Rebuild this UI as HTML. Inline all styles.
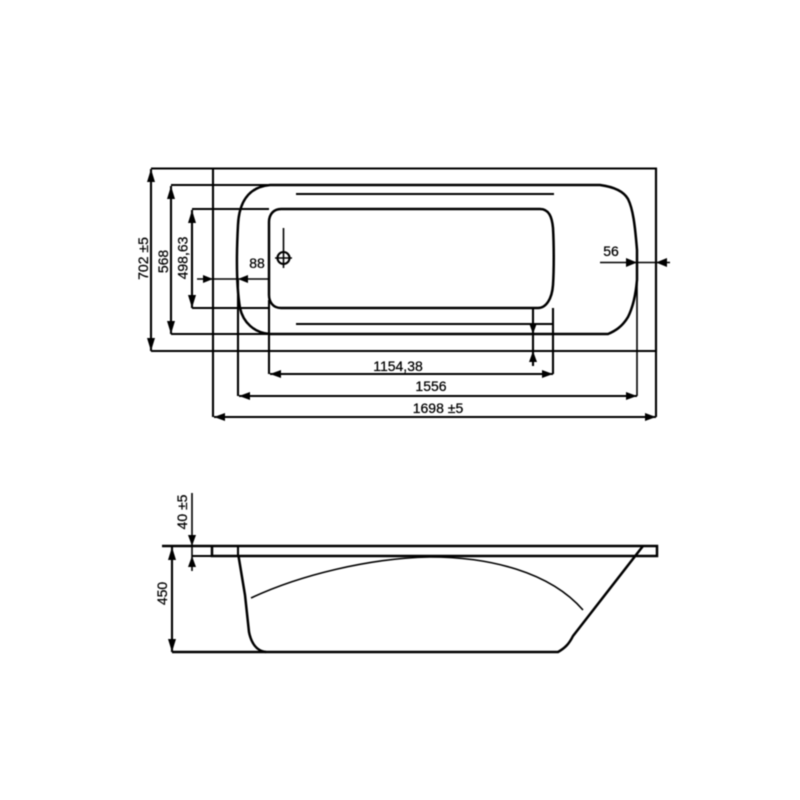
<!DOCTYPE html>
<html>
<head>
<meta charset="utf-8">
<style>
html,body{margin:0;padding:0;background:#fff}
svg{display:block;filter:blur(0.45px)}
text{font-family:"Liberation Sans",sans-serif;font-size:14px;fill:#000;stroke:#000;stroke-width:0.25;text-anchor:middle;dominant-baseline:central}
.t{stroke:#000;stroke-width:2.1;fill:none}
.m{stroke:#000;stroke-width:1.6;fill:none}
.k{stroke:#000;stroke-width:2.5;fill:none}
.a{fill:#000;stroke:none}
</style>
</head>
<body>
<svg width="800" height="800" viewBox="0 0 800 800" xmlns="http://www.w3.org/2000/svg">
<!-- top view extension and outlines -->
<path class="t" d="M151 168.500H656V351H151"/>
<path class="t" d="M171 185H420M171 334H420"/>
<path class="t" d="M192 209H269M192 308H269"/>
<path class="t" d="M213 168.500V417"/>
<path class="t" d="M656 168.500V417"/>
<path class="t" d="M238 280V396"/>
<path class="m" d="M637 262V396"/>
<path class="t" d="M269 300V374"/>
<path class="t" d="M553 308V374"/>
<!-- basin -->
<path class="k" d="M270 185H600C615 187 624 192 628 199C633 209 635 225 637 250V280C636 292 634 305 628 317C622 327 615 331 608 334H270C254 333 243 322 240 308C237 290 236 262 238 225C239 203 248 187 270 185Z"/>
<!-- inner -->
<path class="k" d="M281 209H540C549 209 552 217 553 228C554 245 554 270 553 285C552 299 546 308 538 308H281C273 308 269 302 269 295V222C269 214 274 209 281 209Z"/>
<path class="t" d="M296 194H554M296 324H553"/>
<!-- dimension lines -->
<path class="t" d="M151 169V351"/>
<path class="t" d="M171 186V334"/>
<path class="t" d="M192 210V308"/>
<path class="m" d="M197 279H269"/>
<path class="m" d="M600 262.500H670"/>
<path class="m" d="M283.500 228V268"/>
<circle class="t" cx="283.500" cy="258" r="6"/>
<path class="m" d="M275 258H292"/>
<path class="t" d="M533 308V366"/>
<path class="t" d="M270 374H553"/>
<path class="t" d="M239 396H637"/>
<path class="t" d="M214 417H656"/>
<!-- arrowheads -->
<path class="a" d="M151 169L155 182H147Z M151 351L155 338H147Z"/>
<path class="a" d="M171 186L175 199H167Z M171 334L175 321H167Z"/>
<path class="a" d="M192 210L196 223H188Z M192 308L196 295H188Z"/>
<path class="a" d="M213 279L203 275V283Z M238 279L248 275V283Z"/>
<path class="a" d="M637 262.500L626 258V267Z M656 262.500L667 258V267Z"/>
<path class="a" d="M533 334L529 323H537Z M533 351L529 362H537Z"/>
<path class="a" d="M270 374L281 370V378Z M553 374L542 370V378Z"/>
<path class="a" d="M239 396L250 392V400Z M637 396L626 392V400Z"/>
<path class="a" d="M214 417L225 413V421Z M656 417L645 413V421Z"/>
<!-- top labels -->
<text transform="translate(143 258.500) rotate(-90)">702 ±5</text>
<text transform="translate(163 261.500) rotate(-90)">568</text>
<text transform="translate(182.500 258) rotate(-90)">498,63</text>
<text x="257" y="263">88</text>
<text x="611" y="251">56</text>
<text x="398" y="366">1154,38</text>
<text x="431" y="386">1556</text>
<text x="438" y="408">1698 ±5</text>
<!-- side view -->
<path class="k" d="M162 546H657V556H212V546"/>
<path class="t" d="M238 546V556"/>
<path class="t" d="M192 556H212"/>
<path class="k" d="M238.500 556L245 595L249 632C251 642 256 651 266 652"/>
<path class="k" d="M172 652H558C565 648 569 644 573 636L643 546"/>
<path class="m" d="M251 598C300 575 370 558 430 557C490 557 550 572 583 610"/>
<path class="t" d="M172 547V652"/>
<path class="m" d="M192 493V571"/>
<path class="a" d="M172 547L176 560H168Z M172 652L176 639H168Z"/>
<path class="a" d="M192 546L188 535H196Z M192 556L188 567H196Z"/>
<text transform="translate(182 512) rotate(-90)">40 ±5</text>
<text transform="translate(162 593.500) rotate(-90)">450</text>
</svg>
</body>
</html>
